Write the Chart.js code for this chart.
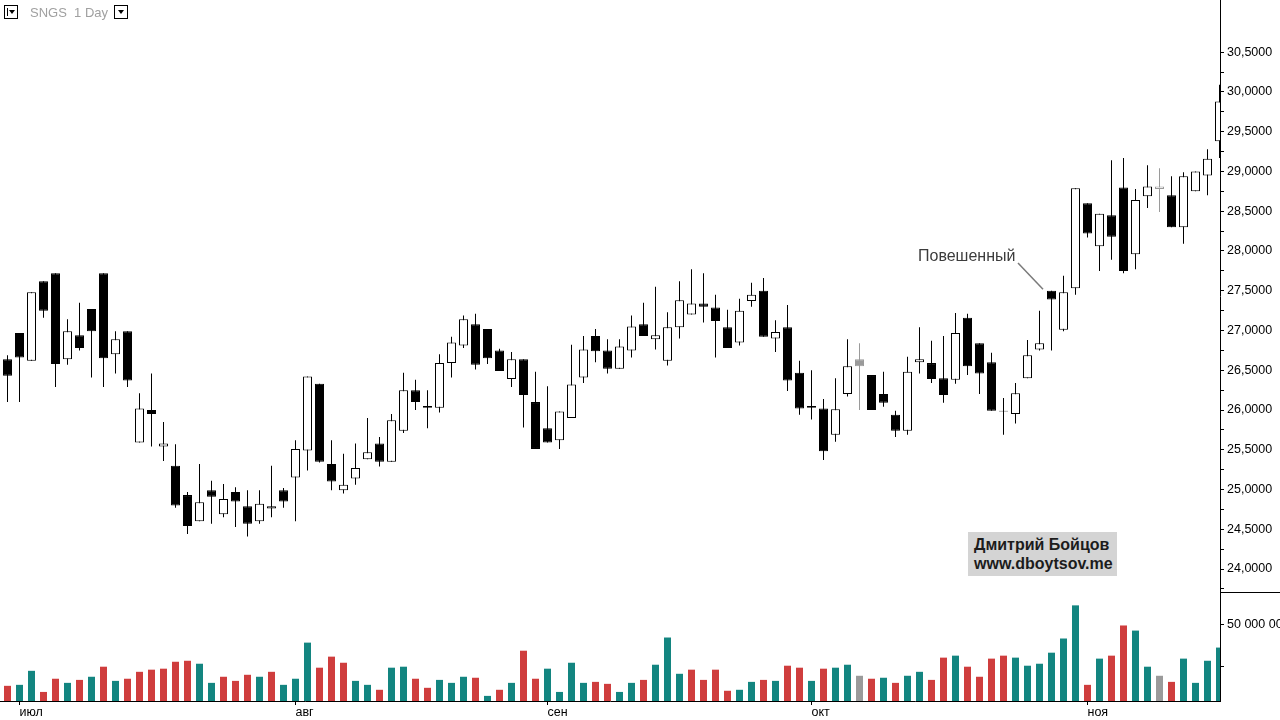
<!DOCTYPE html>
<html>
<head>
<meta charset="utf-8">
<script src="https://cdn.jsdelivr.net/npm/chart.js@4.4.1/dist/chart.umd.min.js"></script>
<style>
html,body{margin:0;padding:0;background:#fff;width:1280px;height:720px;overflow:hidden;font-family:"Liberation Sans",Arial,sans-serif;}
#wrap{position:relative;width:1280px;height:720px;}
#c{position:absolute;left:0;top:0;}
.box{position:absolute;top:5px;width:14px;height:14px;border:1px solid #000;box-sizing:border-box;background:#fff;}
.tri{position:absolute;top:4px;width:0;height:0;border-left:3.5px solid transparent;border-right:3.5px solid transparent;border-top:4px solid #000;}
.bar{position:absolute;left:2px;top:2px;width:1px;height:8px;background:#000;}
#ttl{position:absolute;left:30px;top:5px;font-size:13px;line-height:16px;color:#a0a0a0;white-space:pre;}
#ann{position:absolute;left:918px;top:247px;font-size:16px;line-height:18px;color:#3c3c3c;white-space:nowrap;}
#wm{position:absolute;left:968px;top:532px;width:149px;height:44px;background:#d4d4d4;box-sizing:border-box;padding:4px 0 0 6px;font-weight:bold;font-size:16px;line-height:18.5px;color:#1c1c1c;white-space:nowrap;}
</style>
</head>
<body>
<div id="wrap">
<canvas id="c" width="1280" height="720"></canvas>
<div class="box" style="left:4px;"><div class="bar"></div><div class="tri" style="left:4px;"></div></div>
<div id="ttl">SNGS  1 Day</div>
<div class="box" style="left:114px;"><div class="tri" style="left:2.5px;"></div></div>
<div id="ann">Повешенный</div>
<div id="wm">Дмитрий Бойцов<br>www.dboytsov.me</div>
</div>
<script>
// ---- data ----
const monthTicks = [1, 24, 45, 67, 90];
const monthLabels = ['июл', 'авг', 'сен', 'окт', 'ноя'];
const priceTicks = [23.75, 24.0, 24.25, 24.5, 24.75, 25.0, 25.25, 25.5, 25.75, 26.0, 26.25, 26.5, 26.75, 27.0,
  27.25, 27.5, 27.75, 28.0, 28.25, 28.5, 28.75, 29.0, 29.25, 29.5, 29.75, 30.0, 30.25, 30.5];
const volumeTicks = [25, 50]; // millions
const annIndex = 87; // "Повешенный"

const opens = [26.64,26.97,26.62,27.62,27.72,26.64,26.94,27.27,27.72,26.70,26.99,25.59,26.00,25.54,25.30,24.93,24.60,24.99,24.69,24.97,
  24.79,24.60,24.76,24.99,25.15,25.49,26.33,25.32,24.99,25.14,25.38,25.58,25.35,25.74,26.25,26.05,26.03,26.59,26.81,27.08,
  27.02,26.75,26.39,26.64,26.10,25.77,25.62,25.90,26.41,26.93,26.75,26.52,26.75,27.08,26.89,26.62,27.04,27.20,27.34,27.29,
  27.04,26.85,27.37,27.50,26.90,27.04,26.47,26.05,26.02,25.69,26.20,26.64,26.44,26.20,25.94,25.74,26.60,26.59,26.40,26.38,
  27.16,26.84,26.60,25.99,25.95,26.40,26.76,27.50,27.01,27.53,28.60,28.06,28.45,28.80,27.96,28.69,28.78,28.70,28.30,28.75,
  28.95,29.38];
const highs = [26.69,26.97,27.48,27.62,27.72,27.14,27.35,27.27,27.72,26.99,26.99,26.21,26.46,25.85,25.57,24.97,25.32,25.11,25.07,25.03,
  24.99,24.99,25.30,25.02,25.62,26.42,26.33,25.62,25.45,25.58,25.90,25.66,25.95,26.47,26.38,26.25,26.70,26.92,27.19,27.21,
  27.02,26.77,26.73,26.64,26.48,26.30,25.98,26.82,26.93,27.02,26.89,26.89,27.19,27.35,27.55,27.23,27.62,27.77,27.72,27.45,
  27.26,27.40,27.60,27.66,27.13,27.32,26.62,26.50,26.14,26.40,26.89,26.84,26.44,26.48,25.99,26.67,27.04,26.87,26.93,27.22,
  27.21,26.84,26.72,26.15,26.34,26.88,27.25,27.50,27.69,28.79,28.60,28.47,29.14,29.17,28.78,29.08,29.04,28.94,28.99,29.00,
  29.28,30.09];
const lows = [26.10,26.10,26.62,27.16,26.29,26.57,26.75,26.41,26.29,26.46,26.29,25.59,25.54,25.36,24.77,24.44,24.60,24.57,24.65,24.53,
  24.41,24.57,24.65,24.77,24.60,25.24,25.34,24.99,24.95,25.06,25.38,25.29,25.35,25.71,26.00,25.77,25.97,26.41,26.78,26.51,
  26.58,26.49,26.29,25.78,25.51,25.59,25.51,25.90,26.34,26.60,26.46,26.52,26.66,26.93,26.76,26.56,26.90,27.20,27.10,26.66,
  26.78,26.81,27.30,26.92,26.73,26.24,25.94,25.88,25.37,25.60,26.17,26.00,26.00,26.04,25.66,25.69,26.46,26.34,26.09,26.33,
  26.44,26.20,25.99,25.69,25.83,26.40,26.75,26.75,26.99,27.45,28.17,27.75,27.89,27.72,27.77,28.54,28.49,28.30,28.09,28.75,
  28.70,29.17];
const closes = [26.43,26.66,27.48,27.25,26.58,26.99,26.78,26.99,26.65,26.89,26.37,26.02,25.95,25.58,24.80,24.54,24.84,24.91,24.88,24.85,
  24.57,24.82,24.79,24.85,25.51,26.42,25.35,25.10,25.06,25.27,25.47,25.35,25.87,26.25,26.10,26.03,26.59,26.85,27.14,26.57,
  26.65,26.49,26.64,26.19,25.51,25.59,25.98,26.32,26.76,26.74,26.52,26.80,27.05,26.93,26.94,27.04,27.38,27.34,27.30,27.12,
  26.78,27.25,27.45,26.92,26.98,26.37,26.02,26.03,25.48,26.01,26.55,26.55,26.00,26.09,25.74,26.48,26.64,26.39,26.19,26.97,
  26.55,26.46,25.99,25.98,26.21,26.69,26.84,27.39,27.48,28.79,28.22,28.47,28.18,27.75,28.64,28.81,28.81,28.30,28.94,29.00,
  29.16,29.88];
const volumes = [13.0,13.6,22.1,9.3,17.3,14.8,16.6,18.5,24.6,16.0,17.3,21.5,22.8,23.4,27.6,28.2,26.4,14.8,18.5,16.0,
  19.7,18.5,21.5,13.6,17.3,39.2,24.0,30.7,27.0,16.0,13.6,10.6,24.0,24.6,17.3,11.8,16.6,14.8,18.5,17.9,
  6.9,10.6,14.8,34.3,17.3,23.4,9.3,27.0,14.8,15.4,14.2,9.3,14.8,16.6,25.8,42.3,20.3,22.8,16.6,22.8,
  10.0,10.6,15.4,16.6,16.0,25.2,24.0,16.0,23.4,24.0,25.8,19.1,17.3,17.9,14.8,19.1,21.5,16.6,30.1,31.3,
  24.6,18.5,29.5,31.3,30.1,25.2,26.4,33.1,41.7,61.8,13.6,29.5,31.3,49.6,46.5,24.6,19.1,15.4,29.5,14.8,
  28.2,36.2];

// ---- derived styling ----
const idx = opens.map((_, i) => i);
const trend = idx.map(i => {
  const prev = i > 0 ? closes[i - 1] : opens[i];
  const d = closes[i] - prev;
  return Math.abs(d) < 1e-9 ? 0 : (d > 0 ? 1 : -1);
});
const GRAY = '#9a9a9a';
const candleColor = idx.map(i => trend[i] === 0 ? GRAY : '#000000');
const bodyFill = idx.map(i => closes[i] > opens[i] ? '#ffffff' : candleColor[i]);
const volColor = idx.map(i => trend[i] === 0 ? GRAY : (trend[i] > 0 ? '#138580' : '#cf3d3d'));

const FONT = '"Liberation Sans", Arial, sans-serif';
const fmtPrice = v => v.toFixed(4).replace('.', ',');
const fmtVol = v => String(Math.round(v * 1e6)).replace(/\B(?=(\d{3})+(?!\d))/g, ' ');

const overlay = {
  id: 'overlay',
  afterDraw(chart) {
    const {ctx} = chart;
    const ys = chart.scales.y, xs = chart.scales.x;
    ctx.save();
    ctx.strokeStyle = '#000';
    ctx.lineWidth = 1;
    ctx.beginPath();
    const yb = Math.round(ys.bottom) + 0.5;
    ctx.moveTo(ys.left, yb);
    ctx.lineTo(chart.width, yb);
    ctx.stroke();
    const px = xs.getPixelForValue(annIndex);
    const py = ys.getPixelForValue(highs[annIndex]);
    ctx.strokeStyle = '#7a7a7a';
    ctx.lineWidth = 1.5;
    ctx.beginPath();
    ctx.moveTo(1018, 263);
    ctx.lineTo(px - 8.5, py - 1.5);
    ctx.stroke();
    ctx.restore();
  }
};

new Chart(document.getElementById('c'), {
  type: 'bar',
  data: {
    datasets: [
      {
        label: 'body', order: 0, yAxisID: 'y',
        data: idx.map(i => ({x: i, y: [opens[i], closes[i]]})),
        backgroundColor: bodyFill, borderColor: candleColor, borderWidth: 1,
        borderSkipped: false, barThickness: 9, grouped: false, inflateAmount: 0
      },
      {
        label: 'wick', order: 1, yAxisID: 'y',
        data: idx.map(i => ({x: i, y: [lows[i], highs[i]]})),
        backgroundColor: candleColor, borderWidth: 0,
        barThickness: 1, grouped: false, inflateAmount: 0
      },
      {
        label: 'volume', order: 2, yAxisID: 'yv', clip: 0,
        data: idx.map(i => ({x: i, y: volumes[i]})),
        backgroundColor: volColor, borderWidth: 0,
        barThickness: 7, grouped: false, inflateAmount: 0
      }
    ]
  },
  options: {
    responsive: false,
    animation: false,
    devicePixelRatio: 1,
    layout: {padding: 0},
    plugins: {legend: {display: false}, tooltip: {enabled: false}},
    scales: {
      x: {
        type: 'linear', position: 'bottom', offset: false,
        min: -0.625, max: -0.625 + 1220 / 12,
        grid: {display: true, offset: false, drawOnChartArea: false, drawTicks: true, tickLength: 4, tickColor: '#000', tickWidth: 1},
        border: {display: true, color: '#000', width: 1},
        afterBuildTicks: s => { s.ticks = monthTicks.map(v => ({value: v})); },
        ticks: {
          autoSkip: false, maxRotation: 0, minRotation: 0, align: 'start', padding: 0,
          color: '#000', font: {family: FONT, size: 12.5},
          callback: v => { const k = monthTicks.indexOf(v); return k >= 0 ? monthLabels[k] : ''; }
        },
        afterFit: s => { s.height = 19; s.paddingLeft = 0; s.paddingRight = 0; }
      },
      y: {
        type: 'linear', position: 'right', stack: 'panes', stackWeight: 592,
        min: 23.711, max: 31.157, bounds: 'data',
        grid: {display: true, offset: false, drawOnChartArea: false, drawTicks: true, tickLength: 4, tickColor: '#000', tickWidth: 1},
        border: {display: true, color: '#000', width: 1},
        afterBuildTicks: s => { s.ticks = priceTicks.map(v => ({value: v})); },
        ticks: {
          autoSkip: false, padding: 3, color: '#000', font: {family: FONT, size: 12.5},
          callback: v => Math.abs(v * 2 - Math.round(v * 2)) < 1e-6 ? fmtPrice(v) : ''
        },
        afterFit: s => { s.width = 60; s.paddingTop = 0; s.paddingBottom = 0; }
      },
      yv: {
        type: 'linear', position: 'right', stack: 'panes', stackWeight: 109,
        min: 3.8, max: 69.9, bounds: 'data',
        grid: {display: true, offset: false, drawOnChartArea: false, drawTicks: true, tickLength: 4, tickColor: '#000', tickWidth: 1},
        border: {display: true, color: '#000', width: 1},
        afterBuildTicks: s => { s.ticks = volumeTicks.map(v => ({value: v})); },
        ticks: {
          autoSkip: false, padding: 3, color: '#000', font: {family: FONT, size: 12.5},
          callback: v => v === 50 ? fmtVol(v) : ''
        },
        afterFit: s => { s.width = 60; s.paddingTop = 0; s.paddingBottom = 0; }
      }
    }
  },
  plugins: [overlay]
});
</script>
</body>
</html>
